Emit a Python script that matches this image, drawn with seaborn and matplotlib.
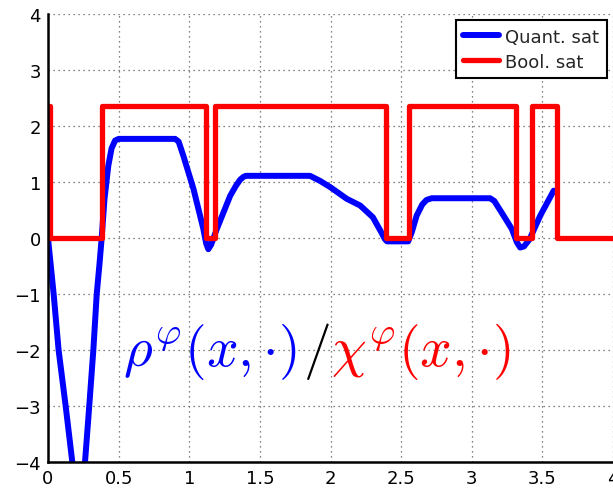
import matplotlib
matplotlib.use("Agg")
import matplotlib.pyplot as plt
import pandas as pd
import seaborn as sns

# quantitative satisfaction (robustness) curve
quant_x = [0.0, 0.04, 0.075, 0.125, 0.172, 0.215, 0.262, 0.292, 0.321, 0.345,
           0.365, 0.38, 0.40, 0.427, 0.45, 0.475, 0.50, 0.90, 0.925, 0.958,
           1.03, 1.10, 1.12, 1.135, 1.155, 1.195, 1.29, 1.33, 1.36, 1.383,
           1.40, 1.855, 1.926, 2.0, 2.115, 2.21, 2.30, 2.36, 2.385, 2.40,
           2.55, 2.575, 2.61, 2.65, 2.68, 2.717, 3.13, 3.16, 3.225, 3.284,
           3.32, 3.343, 3.37, 3.41, 3.485, 3.58]
quant_y = [0.0, -1.0, -2.0, -3.0, -4.0, -5.0, -4.0, -3.0, -2.0, -1.0,
           -0.45, 0.0, 0.70, 1.29, 1.60, 1.74, 1.77, 1.77, 1.72, 1.47,
           0.875, 0.16, -0.10, -0.20, -0.12, 0.16, 0.755, 0.93, 1.04, 1.09,
           1.11, 1.11, 1.02, 0.905, 0.70, 0.58, 0.37, 0.10, -0.02, -0.06,
           -0.06, 0.10, 0.40, 0.60, 0.68, 0.71, 0.71, 0.66, 0.40, 0.16,
           -0.08, -0.17, -0.15, -0.02, 0.40, 0.845]

# boolean satisfaction (step signal)
bool_x = [0.0, 0.014, 0.385, 1.117, 1.183, 2.39, 2.557, 3.314, 3.43, 3.60, 4.0]
bool_y = [2.35, 0.0, 2.35, 0.0, 2.35, 0.0, 2.35, 0.0, 2.35, 0.0, 0.0]

x_ticks = [0, 0.5, 1, 1.5, 2, 2.5, 3, 3.5, 4]
y_ticks = [-4, -3, -2, -1, 0, 1, 2, 3, 4]

sns.set_style("white")
plt.rcParams["font.family"] = ["DejaVu Sans"]
plt.rcParams["mathtext.fontset"] = "cm"

quant = pd.DataFrame({"x": quant_x, "y": quant_y})
boolean = pd.DataFrame({"x": bool_x, "y": bool_y})

fig = plt.figure(figsize=(6.13, 4.89), dpi=100)
ax = fig.add_axes([48 / 613, 26 / 489, 565 / 613, 448 / 489])

sns.lineplot(data=quant, x="x", y="y", ax=ax, color="#0000ff", lw=4.3,
             estimator=None, sort=False, label="Quant. sat")
sns.lineplot(data=boolean, x="x", y="y", ax=ax, color="#ff0000", lw=3.8,
             estimator=None, sort=False, drawstyle="steps-post", label="Bool. sat")

ax.set_xlim(0, 4)
ax.set_ylim(-4, 4)
ax.set_xticks(x_ticks)
ax.set_xticklabels(["0", "0.5", "1", "1.5", "2", "2.5", "3", "3.5", "4"])
ax.set_yticks(y_ticks)
ax.set_yticklabels(["\u22124", "\u22123", "\u22122", "\u22121", "0", "1", "2", "3", "4"])
ax.set_xlabel("")
ax.set_ylabel("")
ax.tick_params(direction="in", length=5, width=1.2, labelsize=13, colors="black", pad=5)
ax.grid(True, linestyle=(0, (1, 3)), color="0.35", lw=0.9)

for side in ["top", "right"]:
    ax.spines[side].set_visible(False)
for side in ["left", "bottom"]:
    ax.spines[side].set_color("black")
    ax.spines[side].set_linewidth(1.8)

leg = ax.legend(loc="upper right", fontsize=13, fancybox=False, framealpha=1,
                edgecolor="black", borderaxespad=0.35, handlelength=2.0,
                handletextpad=0.35, labelspacing=0.4, borderpad=0.4)
leg.get_frame().set_linewidth(1.5)

# coloured formula annotation
t1 = ax.text(0.53, -2.27, r"$\rho^{\varphi}(x,{\cdot})$", color="#0000ff",
             fontsize=40, va="baseline", ha="left")
t2 = ax.annotate(r"$/$", xy=(1, 0), xycoords=t1, xytext=(5, 0),
                 textcoords="offset points", color="black", fontsize=40,
                 va="bottom", ha="left")
t3 = ax.annotate(r"$\chi^{\varphi}(x,{\cdot})$", xy=(1, 0), xycoords=t2,
                 xytext=(1, 0), textcoords="offset points", color="#ff0000",
                 fontsize=40, va="bottom", ha="left")

fig.savefig("out.png", dpi=100)
